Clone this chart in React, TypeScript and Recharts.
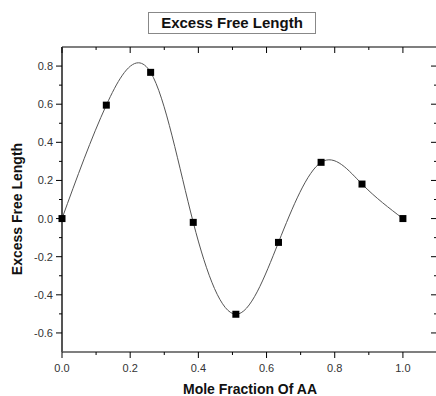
import React from 'react';
import { LineChart, Line, XAxis, YAxis } from 'recharts';

const moleFractions = [0, 0.13, 0.26, 0.385, 0.51, 0.635, 0.76, 0.88, 1.0];
const excessFreeLength = [0, 0.595, 0.767, -0.02, -0.502, -0.125, 0.295, 0.181, 0];
const xTicks = [0, 0.1, 0.2, 0.3, 0.4, 0.5, 0.6, 0.7, 0.8, 0.9, 1.0];
const yTicks = [-0.6, -0.5, -0.4, -0.3, -0.2, -0.1, 0, 0.1, 0.2, 0.3, 0.4, 0.5, 0.6, 0.7, 0.8];
const xDomain = [0, 1.1];
const yDomain = [-0.7, 0.9];

const data = moleFractions.map((x, i) => ({ x, y: excessFreeLength[i] }));

const FONT = 'Arial, "Liberation Sans", sans-serif';
const CHART_W = 440;
const MARGIN_RIGHT = 3;
const PLOT_RIGHT = CHART_W - MARGIN_RIGHT;

const isMajor = (v: number) => Math.abs(Math.round(v * 10)) % 2 === 0;

function makeTick(side: 'bottom' | 'top' | 'left', labels: boolean) {
  return (props: any) => {
    const { x, y, payload } = props;
    const v = payload.value as number;
    const major = isMajor(v);
    const len = major ? 6 : 3;
    let line;
    let mirror = null;
    if (side === 'bottom' || side === 'top') {
      line = <line x1={x} y1={y} x2={x} y2={y + len} stroke="#000" strokeWidth={1} />;
    } else {
      line = <line x1={x} y1={y} x2={x - len} y2={y} stroke="#000" strokeWidth={1} />;
      mirror = <line x1={PLOT_RIGHT} y1={y} x2={PLOT_RIGHT - len} y2={y} stroke="#000" strokeWidth={1} />;
    }
    let label = null;
    if (labels && major) {
      if (side === 'bottom') {
        label = (
          <text x={x} y={y + 20} textAnchor="middle" fontSize={11} fontFamily={FONT} fill="#333">
            {v.toFixed(1)}
          </text>
        );
      } else if (side === 'left') {
        label = (
          <text x={x - 9} y={y + 4} textAnchor="end" fontSize={11} fontFamily={FONT} fill="#333">
            {v.toFixed(1)}
          </text>
        );
      }
    }
    return (
      <g>
        {line}
        {mirror}
        {label}
      </g>
    );
  };
}

const Square = (props: any) => {
  const { cx, cy, index } = props;
  if (cx == null || cy == null) return <g key={index} />;
  return <rect key={index} x={cx - 3.5} y={cy - 3.5} width={7} height={7} fill="#000" />;
};

export default function App() {
  return (
    <div
      style={{
        position: 'fixed',
        left: 0,
        top: 0,
        width: 436,
        height: 396,
        overflow: 'hidden',
        background: '#fff',
      }}
    >
      <div style={{ position: 'absolute', left: 0, top: 0 }}>
        <LineChart width={CHART_W} height={396} data={data} margin={{ top: 46, right: MARGIN_RIGHT, bottom: 0, left: 0 }}>
          <XAxis
            xAxisId="bottom"
            dataKey="x"
            type="number"
            domain={xDomain}
            ticks={xTicks}
            orientation="bottom"
            height={44}
            tickSize={0}
            tickMargin={0}
            tickLine={false}
            tick={makeTick('bottom', true)}
            axisLine={{ stroke: '#000', strokeWidth: 1.2 }}
            interval={0}
          />
          <XAxis
            xAxisId="top"
            dataKey="x"
            type="number"
            domain={xDomain}
            ticks={xTicks}
            orientation="top"
            height={1}
            tickSize={0}
            tickMargin={0}
            tickLine={false}
            tick={makeTick('top', false)}
            axisLine={{ stroke: '#000', strokeWidth: 1.2 }}
            interval={0}
          />
          <YAxis
            yAxisId="left"
            type="number"
            domain={yDomain}
            ticks={yTicks}
            orientation="left"
            width={62}
            tickSize={0}
            tickMargin={0}
            tickLine={false}
            tick={makeTick('left', true)}
            axisLine={{ stroke: '#555', strokeWidth: 2 }}
            interval={0}
          />
          <Line
            xAxisId="bottom"
            yAxisId="left"
            type="natural"
            dataKey="y"
            stroke="#555"
            strokeWidth={1}
            dot={Square}
            activeDot={false}
            isAnimationActive={false}
          />
        </LineChart>
      </div>
      <div
        style={{
          position: 'absolute',
          left: 148,
          top: 12,
          width: 166,
          height: 20,
          border: '1px solid #888',
          fontFamily: FONT,
          fontWeight: 'bold',
          fontSize: 15,
          lineHeight: '20px',
          textAlign: 'center',
          color: '#111',
        }}
      >
        Excess Free Length
      </div>
      <div
        style={{
          position: 'absolute',
          left: 17,
          top: 209,
          transform: 'translate(-50%, -50%) rotate(-90deg)',
          fontFamily: FONT,
          fontWeight: 'bold',
          fontSize: 14,
          whiteSpace: 'nowrap',
          color: '#111',
        }}
      >
        Excess Free Length
      </div>
      <div
        style={{
          position: 'absolute',
          left: 250,
          top: 389,
          transform: 'translate(-50%, -50%)',
          fontFamily: FONT,
          fontWeight: 'bold',
          fontSize: 14,
          whiteSpace: 'nowrap',
          color: '#111',
        }}
      >
        Mole Fraction Of AA
      </div>
    </div>
  );
}
